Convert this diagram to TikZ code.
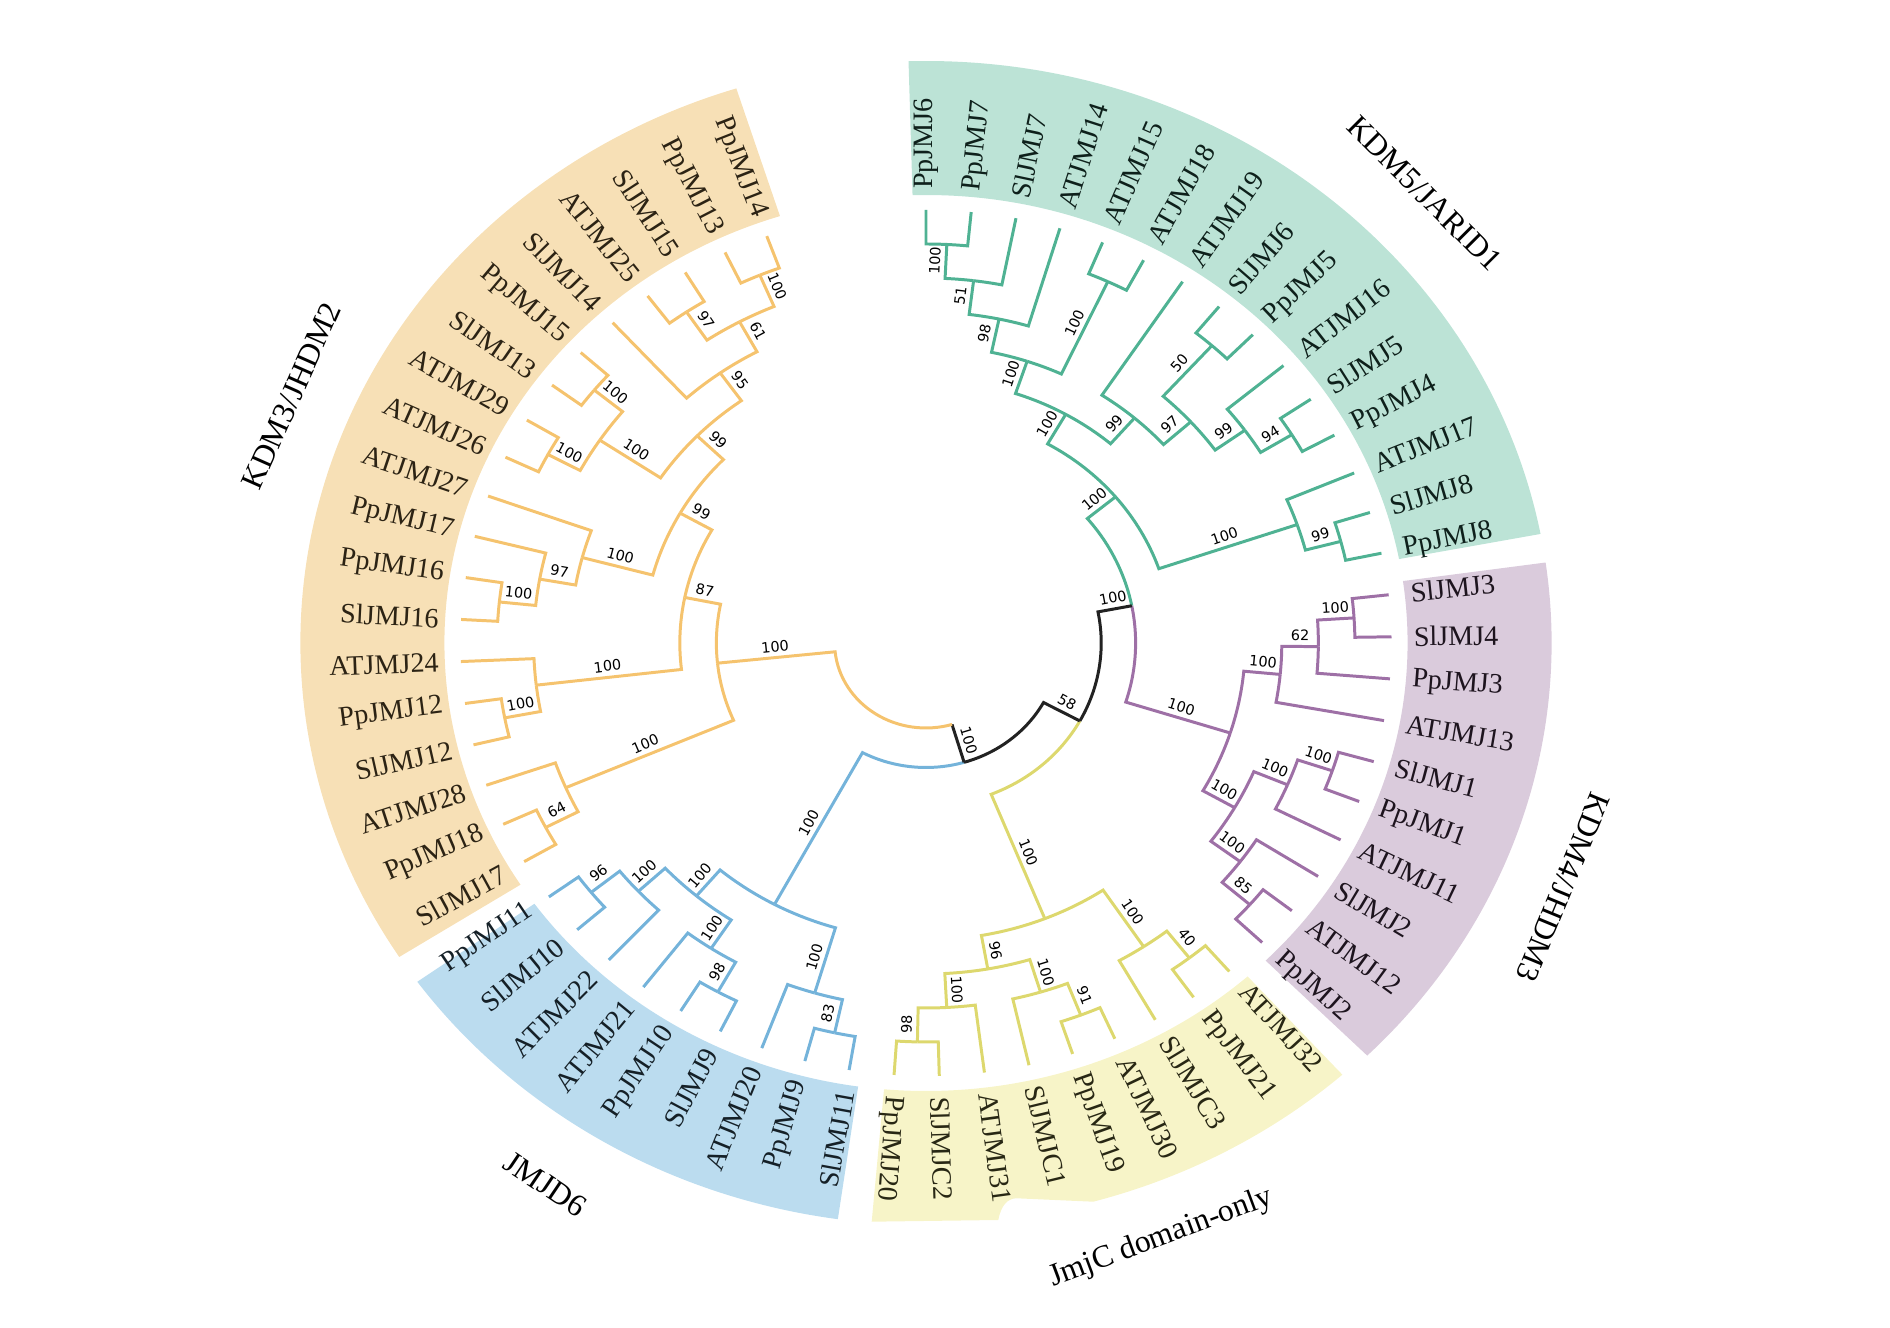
\documentclass[tikz,border=0pt]{standalone}
\usepackage{fontspec}
\setmainfont{Liberation Serif}
\newfontfamily\bsfont{DejaVu Sans}

\definecolor{gline}{HTML}{4FB293}
\definecolor{pline}{HTML}{9E70A6}
\definecolor{yline}{HTML}{DDD86E}
\definecolor{bline}{HTML}{74B3DA}
\definecolor{oline}{HTML}{F5C36E}
\definecolor{bbone}{HTML}{222222}
\definecolor{gband}{HTML}{BCE3D6}
\definecolor{pband}{HTML}{DACBDC}
\definecolor{yband}{HTML}{F7F4C8}
\definecolor{bband}{HTML}{BBDCEF}
\definecolor{oband}{HTML}{F7E0B6}
\colorlet{gtext}{black!82!gline}
\colorlet{ptext}{black!82!pline}
\colorlet{ytext}{black!82!yline}
\colorlet{btext}{black!82!bline}
\colorlet{otext}{black!82!oline}

\pgfkeys{tikz/tree/.style={line width=0.85pt}}
\pgfkeys{tikz/bs/.style={font=\bsfont\fontsize{4.1}{5}\selectfont, sloped, above=0.4pt, inner sep=0.8pt, text=black}}
\pgfkeys{tikz/leaf/.style={font=\fontsize{8}{9}\selectfont, inner sep=1pt}}
\pgfkeys{tikz/rlab/.style={leaf, anchor=west, rotate=\labang}}
\pgfkeys{tikz/llab/.style={leaf, anchor=east, rotate=\labang+180}}
\pgfkeys{tikz/clade/.style={font=\fontsize{9}{11}\selectfont, inner sep=0pt}}

\newcommand\tang[1]{\csname na@#1\endcsname}
\newcommand\trad[1]{\csname nr@#1\endcsname}
\newcommand\tnode[3]{%
  \pgfmathsetmacro\tmpang{#2}%
  \coordinate (#1) at (\tmpang:#3);%
  \expandafter\xdef\csname na@#1\endcsname{\tmpang}%
  \expandafter\xdef\csname nr@#1\endcsname{#3}}
\newcommand\inode[4]{\tnode{#1}{(\tang{#2})/2+(\tang{#3})/2}{#4}}
\newcommand\leaf[4]{%
  \pgfmathsetmacro\leafang{90-(#2-1)*5.57377}%
  \tnode{#1}{\leafang}{4.33}%
  \pgfmathsetmacro\labang{atan2(sin(\leafang),1.075*cos(\leafang))}%
  \node[#3, text=#4] (l#1) at (\leafang:4.50) {#1};}
\newcommand\branch[4][]{%
  \draw[tree,#1] (#2) -- node[bs]{#4} (\tang{#2}:\trad{#3})
    arc[start angle=\tang{#2}, end angle=\tang{#3}, radius=\trad{#3}];}
\newcommand\branchtwo[5]{%
  \draw[tree,#1] (#3) -- node[bs]{#5} (\tang{#3}:\trad{#4}) coordinate (#3-in);
  \draw[tree,#2] (#3-in) arc[start angle=\tang{#3}, end angle=\tang{#4}, radius=\trad{#4}];}

\begin{document}
\begin{tikzpicture}
    \useasboundingbox (-9.26,-6.85) rectangle (9.64,6.43);
    \begin{scope}[xscale=1.075]

        \foreach \a/\b/\col in {10.8/91.6/gband, -45.15/7.95/pband,
                                -144.4/-98.1/bband, -252.35/-147.35/oband}
            \fill[fill=\col] (\a:4.48) arc[start angle=\a, end angle=\b, radius=4.48]
                -- (\b:5.82) arc[start angle=\b, end angle=\a, radius=5.82] -- cycle;
        \fill[yband] (-95:4.48) arc[start angle=-95, end angle=-48.1, radius=4.48]
            -- (-48.1:5.80) arc[start angle=-48.1, end angle=-74.44, radius=5.80]
            -- (0.844,-5.553) .. controls (0.763,-5.553) and (0.698,-5.62) .. (0.673,-5.77)
            -- (-0.505,-5.787) -- cycle;

        \foreach \n [count=\i from 1] in {PpJMJ6,PpJMJ7,SlJMJ7,ATJMJ14,ATJMJ15,ATJMJ18,ATJMJ19,SlJMJ6,
                                          PpJMJ5,ATJMJ16,SlJMJ5,PpJMJ4,ATJMJ17,SlJMJ8,PpJMJ8}
            {\leaf{\n}{\i}{rlab}{gtext}}
        \foreach \n [count=\i from 16] in {SlJMJ3,SlJMJ4,PpJMJ3,ATJMJ13,SlJMJ1,PpJMJ1,ATJMJ11,SlJMJ2,
                                           ATJMJ12,PpJMJ2}
            {\leaf{\n}{\i}{rlab}{ptext}}
        \foreach \n [count=\i from 26] in {ATJMJ32,PpJMJ21,SlJMJC3,ATJMJ30,PpJMJ19,SlJMJC1,ATJMJ31,
                                           SlJMJC2,PpJMJ20}
            {\leaf{\n}{\i}{rlab}{ytext}}
        \foreach \n [count=\i from 35] in {SlJMJ11,PpJMJ9,ATJMJ20,SlJMJ9,PpJMJ10,ATJMJ21,ATJMJ22,
                                           SlJMJ10,PpJMJ11}
            {\leaf{\n}{\i}{llab}{btext}}
        \foreach \n [count=\i from 44] in {SlJMJ17,PpJMJ18,ATJMJ28,SlJMJ12,PpJMJ12,ATJMJ24,SlJMJ16,
                                           PpJMJ16,PpJMJ17,ATJMJ27,ATJMJ26,ATJMJ29,SlJMJ13,PpJMJ15,
                                           SlJMJ14,ATJMJ25,SlJMJ15,PpJMJ13,PpJMJ14}
            {\leaf{\n}{\i}{llab}{otext}}

        % KDM5/JARID1
        \inode{g1}{PpJMJ6}{PpJMJ7}{3.99}
        \inode{g2}{g1}{SlJMJ7}{3.65}
        \inode{g3}{g2}{ATJMJ14}{3.31}
        \inode{g5}{ATJMJ15}{ATJMJ18}{3.99}
        \inode{g4}{g3}{g5}{2.97}
        \inode{g9}{SlJMJ6}{PpJMJ5}{3.99}
        \inode{g11}{SlJMJ5}{PpJMJ4}{3.99}
        \inode{g10}{ATJMJ16}{g11}{3.65}
        \inode{g8}{g9}{g10}{3.31}
        \inode{g7}{ATJMJ19}{g8}{2.97}
        \inode{g6}{g4}{g7}{2.63}
        \inode{gsp}{SlJMJ8}{PpJMJ8}{3.99}
        \inode{gs}{ATJMJ17}{gsp}{3.65}
        \inode{kdm5}{g6}{gs}{2.29}
        % KDM4/JHDM3
        \inode{p1}{SlJMJ3}{SlJMJ4}{3.99}
        \inode{p2}{p1}{PpJMJ3}{3.65}
        \inode{p3}{p2}{ATJMJ13}{3.31}
        \inode{p4}{SlJMJ1}{PpJMJ1}{3.99}
        \inode{p5}{p4}{ATJMJ11}{3.65}
        \inode{p6}{ATJMJ12}{PpJMJ2}{3.99}
        \inode{p7}{SlJMJ2}{p6}{3.65}
        \inode{p8}{p5}{p7}{3.31}
        \inode{kdm4}{p3}{p8}{2.97}
        \inode{n54}{kdm5}{kdm4}{1.95}
        % JmjC domain-only
        \inode{y1}{SlJMJC2}{PpJMJ20}{3.99}
        \inode{y2}{ATJMJ31}{y1}{3.65}
        \inode{y3}{ATJMJ30}{PpJMJ19}{3.99}
        \inode{y4}{y3}{SlJMJC1}{3.65}
        \inode{y5}{y4}{y2}{3.31}
        \inode{y6}{ATJMJ32}{PpJMJ21}{3.99}
        \inode{y7}{y6}{SlJMJC3}{3.65}
        \inode{jmjc}{y7}{y5}{2.97}
        \inode{n58}{n54}{jmjc}{1.63}
        % JMJD6
        \inode{b1}{SlJMJ11}{PpJMJ9}{3.99}
        \inode{b2}{b1}{ATJMJ20}{3.65}
        \inode{b3}{SlJMJ9}{PpJMJ10}{3.99}
        \inode{b4}{b3}{ATJMJ21}{3.65}
        \inode{b5}{SlJMJ10}{PpJMJ11}{3.99}
        \inode{b6}{ATJMJ22}{b5}{3.65}
        \inode{b7}{b4}{b6}{3.31}
        \inode{jmjd6}{b2}{b7}{2.97}
        \inode{nb}{n58}{jmjd6}{1.245}
        % KDM3/JHDM2
        \inode{o17}{SlJMJ17}{PpJMJ18}{3.99}
        \inode{o16}{o17}{ATJMJ28}{3.65}
        \inode{o15}{SlJMJ12}{PpJMJ12}{3.99}
        \inode{o14}{o15}{ATJMJ24}{3.65}
        \inode{o12}{SlJMJ16}{PpJMJ16}{3.99}
        \inode{o11}{o12}{PpJMJ17}{3.65}
        \inode{o10}{o11}{ATJMJ27}{3.31}
        \inode{o6}{ATJMJ26}{ATJMJ29}{3.99}
        \inode{o5}{SlJMJ13}{PpJMJ15}{3.99}
        \inode{o7}{o6}{o5}{3.65}
        \inode{o2}{ATJMJ25}{SlJMJ15}{3.99}
        \inode{o1}{PpJMJ13}{PpJMJ14}{3.99}
        \inode{o3}{o2}{o1}{3.65}
        \inode{o4}{SlJMJ14}{o3}{3.31}
        \inode{o8}{o7}{o4}{2.97}
        \inode{o9}{o10}{o8}{2.63}
        \inode{o13}{o14}{o9}{2.29}
        \inode{kdm3}{o16}{o13}{1.95}
        \inode{root}{kdm3}{nb}{0.85}

        \foreach \ch/\pa in {PpJMJ6/g1,PpJMJ7/g1,SlJMJ7/g2,ATJMJ14/g3,ATJMJ15/g5,ATJMJ18/g5,ATJMJ19/g7,
                             SlJMJ6/g9,PpJMJ5/g9,ATJMJ16/g10,SlJMJ5/g11,PpJMJ4/g11,ATJMJ17/gs,
                             SlJMJ8/gsp,PpJMJ8/gsp}
            \branch[gline]{\ch}{\pa}{};
        \foreach \ch/\pa/\bv in {g1/g2/100,g2/g3/51,g3/g4/98,g5/g4/100,g4/g6/100,g9/g8/50,g11/g10/94,
                                 g10/g8/99,g8/g7/97,g7/g6/99,g6/kdm5/100,gsp/gs/99,gs/kdm5/100,kdm5/n54/100}
            \branch[gline]{\ch}{\pa}{\bv};

        \foreach \ch/\pa in {SlJMJ3/p1,SlJMJ4/p1,PpJMJ3/p2,ATJMJ13/p3,SlJMJ1/p4,PpJMJ1/p4,ATJMJ11/p5,
                             SlJMJ2/p7,ATJMJ12/p6,PpJMJ2/p6}
            \branch[pline]{\ch}{\pa}{};
        \foreach \ch/\pa/\bv in {p1/p2/100,p2/p3/62,p3/kdm4/100,p4/p5/100,p5/p8/100,p6/p7/85,p7/p8/100,
                                 p8/kdm4/100,kdm4/n54/100}
            \branch[pline]{\ch}{\pa}{\bv};

        \foreach \ch/\pa in {ATJMJ32/y6,PpJMJ21/y6,SlJMJC3/y7,ATJMJ30/y3,PpJMJ19/y3,SlJMJC1/y4,
                             ATJMJ31/y2,SlJMJC2/y1,PpJMJ20/y1}
            \branch[yline]{\ch}{\pa}{};
        \foreach \ch/\pa/\bv in {y1/y2/98,y2/y5/100,y3/y4/91,y4/y5/100,y5/jmjc/96,y6/y7/40,y7/jmjc/100,
                                 jmjc/n58/100}
            \branch[yline]{\ch}{\pa}{\bv};

        \foreach \ch/\pa in {SlJMJ11/b1,PpJMJ9/b1,ATJMJ20/b2,SlJMJ9/b3,PpJMJ10/b3,ATJMJ21/b4,
                             ATJMJ22/b6,SlJMJ10/b5,PpJMJ11/b5}
            \branch[bline]{\ch}{\pa}{};
        \foreach \ch/\pa/\bv in {b1/b2/83,b2/jmjd6/100,b3/b4/98,b4/b7/100,b5/b6/96,b6/b7/100,
                                 b7/jmjd6/100,jmjd6/nb/100}
            \branch[bline]{\ch}{\pa}{\bv};

        \foreach \ch/\pa in {SlJMJ17/o17,PpJMJ18/o17,ATJMJ28/o16,SlJMJ12/o15,PpJMJ12/o15,ATJMJ24/o14,
                             SlJMJ16/o12,PpJMJ16/o12,PpJMJ17/o11,ATJMJ27/o10,ATJMJ26/o6,ATJMJ29/o6,
                             SlJMJ13/o5,PpJMJ15/o5,SlJMJ14/o4,ATJMJ25/o2,SlJMJ15/o2,PpJMJ13/o1,
                             PpJMJ14/o1}
            \branch[oline]{\ch}{\pa}{};
        \foreach \ch/\pa/\bv in {o17/o16/64,o16/kdm3/100,o15/o14/100,o14/o13/100,o12/o11/100,
                                 o11/o10/97,o10/o9/100,o6/o7/100,o5/o7/100,o7/o8/100,o2/o3/97,
                                 o1/o3/100,o3/o4/61,o4/o8/95,o8/o9/99,o9/o13/99,o13/kdm3/87,
                                 kdm3/root/100}
            \branch[oline]{\ch}{\pa}{\bv};

        \branch[bbone]{n54}{n58}{100}
        \branch[bbone]{n58}{nb}{58}
        \branchtwo{bbone}{oline}{nb}{root}{100}

        \node[clade, rotate=66] (kdm3lab) at (157.3:6.40) {KDM3/JHDM2};
        \node[clade, rotate=-45] (kdm5lab) at (44.1:6.46) {KDM5/JARID1};
        \node[clade, rotate=-112.5] (kdm4lab) at (-22.4:6.41) {KDM4/JHDM3};
        \node[clade, rotate=20.5] (jmjclab) at (-69.8:6.34) {JmjC domain-only};
        \node[clade, rotate=-34] (jmjd6lab) at (-123.2:6.47) {JMJD6};
    \end{scope}
\end{tikzpicture}
\end{document}
